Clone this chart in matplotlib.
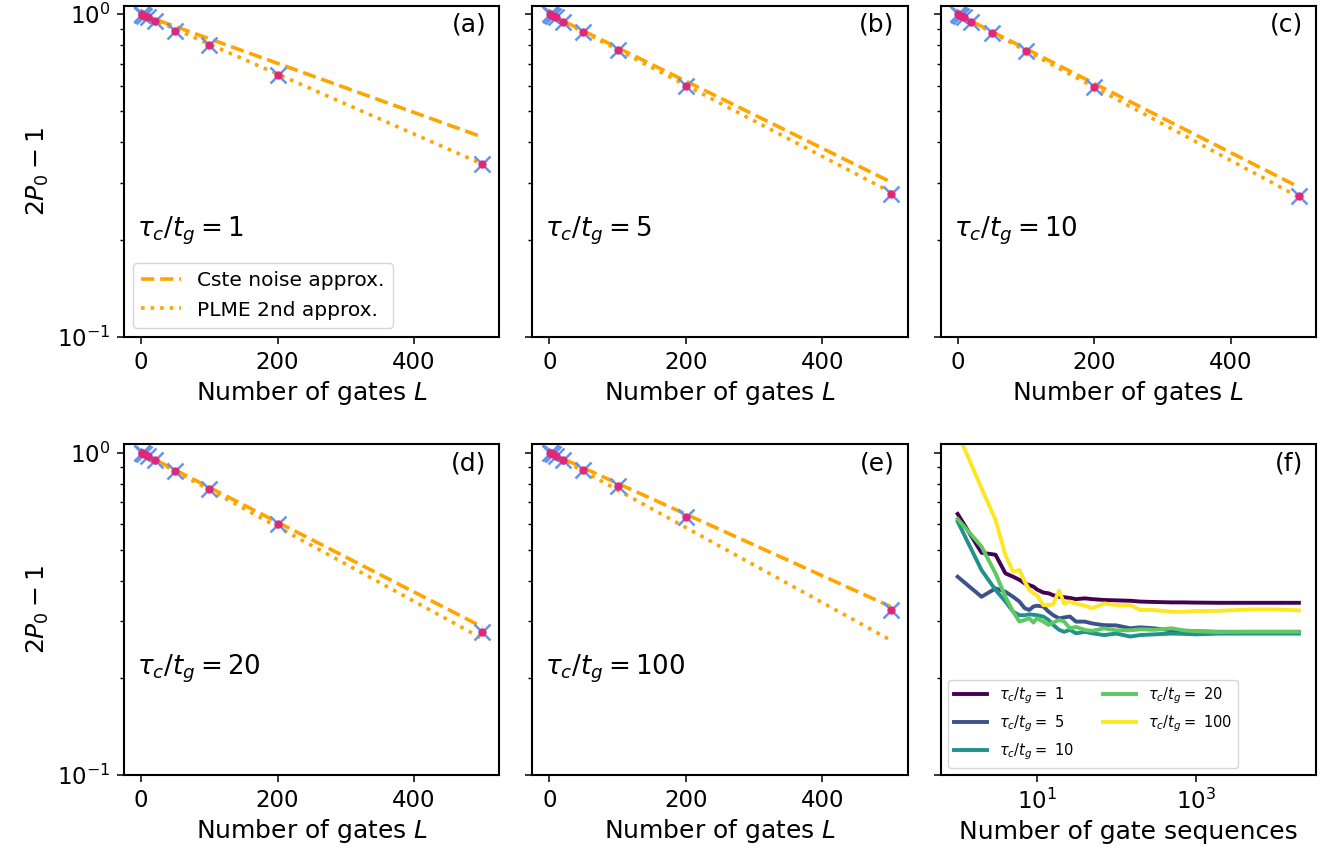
import numpy as np
import matplotlib
matplotlib.use("Agg")
import matplotlib.pyplot as plt
from matplotlib.ticker import NullFormatter, NullLocator

# number of gates and measured 2P0-1 for each correlation time
L = [1, 2, 5, 10, 20, 50, 100, 200, 500]
taus = [1, 5, 10, 20, 100]
P_sim = {
    1:   [0.998, 0.996, 0.990, 0.980, 0.955, 0.890, 0.805, 0.647, 0.343],
    5:   [0.998, 0.996, 0.990, 0.977, 0.945, 0.878, 0.772, 0.598, 0.277],
    10:  [0.998, 0.996, 0.990, 0.977, 0.945, 0.875, 0.768, 0.593, 0.273],
    20:  [0.998, 0.996, 0.990, 0.977, 0.949, 0.879, 0.771, 0.599, 0.278],
    100: [0.998, 0.996, 0.990, 0.978, 0.949, 0.884, 0.788, 0.630, 0.324],
}
# analytic approximations, evaluated at a few L
L_fit = [0, 250, 500]
P_cste = {
    1:   [1.0, 0.645, 0.416],
    5:   [1.0, 0.550, 0.302],
    10:  [1.0, 0.539, 0.291],
    20:  [1.0, 0.537, 0.288],
    100: [1.0, 0.577, 0.333],
}
P_plme = {
    1:   [1.0, 0.586, 0.343],
    5:   [1.0, 0.530, 0.281],
    10:  [1.0, 0.521, 0.271],
    20:  [1.0, 0.515, 0.265],
    100: [1.0, 0.512, 0.262],
}

# convergence with number of gate sequences (L = 500)
N_seq = [1, 2, 3, 4, 5, 6, 7, 8, 9, 10, 12, 14, 16, 19, 22, 26, 31, 40, 50,
         70, 100, 150, 200, 300, 500, 700, 1000, 2000, 5000, 10000, 20000]
conv = {
    1:   [0.645, 0.489, 0.482, 0.422, 0.412, 0.403, 0.393, 0.388, 0.384, 0.376,
          0.368, 0.366, 0.361, 0.357, 0.356, 0.354, 0.351, 0.353, 0.351,
          0.349, 0.348, 0.347, 0.345, 0.344, 0.343, 0.343, 0.3425, 0.342,
          0.342, 0.342, 0.342],
    5:   [0.412, 0.357, 0.379, 0.370, 0.357, 0.345, 0.329, 0.325, 0.333, 0.335,
          0.333, 0.321, 0.313, 0.306, 0.308, 0.310, 0.299, 0.299, 0.295,
          0.2915, 0.291, 0.285, 0.287, 0.285, 0.281, 0.280, 0.279, 0.278,
          0.278, 0.278, 0.278],
    10:  [0.611, 0.432, 0.375, 0.345, 0.321, 0.313, 0.313, 0.315, 0.314, 0.313,
          0.310, 0.3025, 0.292, 0.282, 0.278, 0.282, 0.275, 0.278, 0.275,
          0.2716, 0.2745, 0.2688, 0.2716, 0.273, 0.2745, 0.274, 0.273,
          0.2745, 0.2745, 0.2745, 0.2745],
    20:  [0.622, 0.511, 0.422, 0.357, 0.321, 0.299, 0.3025, 0.306, 0.297, 0.306,
          0.299, 0.292, 0.297, 0.3025, 0.299, 0.285, 0.288, 0.2816, 0.280,
          0.285, 0.281, 0.281, 0.283, 0.282, 0.285, 0.281, 0.279, 0.2775,
          0.278, 0.278, 0.278],
    100: [1.15, 0.775, 0.618, 0.481, 0.427, 0.432, 0.398, 0.375, 0.366, 0.361,
          0.3365, 0.3365, 0.338, 0.373, 0.340, 0.345, 0.340, 0.335, 0.329,
          0.3405, 0.3365, 0.3365, 0.325, 0.3247, 0.3208, 0.3208, 0.3224,
          0.323, 0.3263, 0.3263, 0.324],
}

panel_labels = ["(a)", "(b)", "(c)", "(d)", "(e)", "(f)"]
line_col = "orange"
cmap = plt.get_cmap("viridis")

fig, axes = plt.subplots(2, 3, figsize=(13.36, 8.61), dpi=100, sharey=True)
fig.subplots_adjust(left=0.0928, right=0.985, top=0.993, bottom=0.0999,
                    wspace=0.0878, hspace=0.326)
axs = axes.flatten()

for i, tau in enumerate(taus):
    ax = axs[i]
    ax.plot(L_fit, P_cste[tau], "--", color=line_col, lw=2.6, label="Cste noise approx.")
    ax.plot(L_fit, P_plme[tau], ":", color=line_col, lw=2.6, label="PLME 2nd approx.")
    ax.plot(L, P_sim[tau], "x", color="#6495ed", ms=11, mew=1.8)
    ax.plot(L, P_sim[tau], "o", color="#e0287a", ms=5)
    ax.set_yscale("log")
    ax.set_xticks([0, 200, 400])
    ax.set_xlabel("Number of gates $L$", fontsize=18)
    ax.text(0.035, 0.32, r"$\tau_c/t_g = %d$" % tau, transform=ax.transAxes,
            fontsize=18.8, va="center", ha="left")
    if i == 0:
        ax.legend(loc="lower left", fontsize=14.5, handlelength=2.0,
                  borderaxespad=0.45)

# panel (f): convergence in number of sequences
ax = axs[5]
for k, tau in enumerate(taus):
    ax.plot(N_seq, conv[tau], color=cmap(k / 4), lw=2.8,
            label=r"$\tau_c/t_g =$ %d" % tau)
ax.set_xscale("log")
ax.set_xticks([10, 1000])
ax.xaxis.set_minor_locator(NullLocator())
ax.set_xlabel("Number of gate sequences", fontsize=18)
ax.legend(loc="lower left", ncol=2, fontsize=10.5, handlelength=2.3,
          borderaxespad=0.5)

for i, ax in enumerate(axs):
    ax.set_ylim(0.1, 1.06)
    ax.yaxis.set_minor_formatter(NullFormatter())
    ax.tick_params(labelsize=16.5, width=1.1, length=5, pad=5)
    ax.tick_params(which="minor", width=1.0, length=3)
    for sp in ax.spines.values():
        sp.set_linewidth(1.5)
    ax.text(0.965, 0.98, panel_labels[i], transform=ax.transAxes,
            ha="right", va="top", fontsize=18)

for ax in (axs[0], axs[3]):
    ax.set_ylabel("$2P_0-1$", fontsize=18)
    ax.tick_params(labelleft=True)

fig.savefig("out.png", dpi=100)
plt.close(fig)
